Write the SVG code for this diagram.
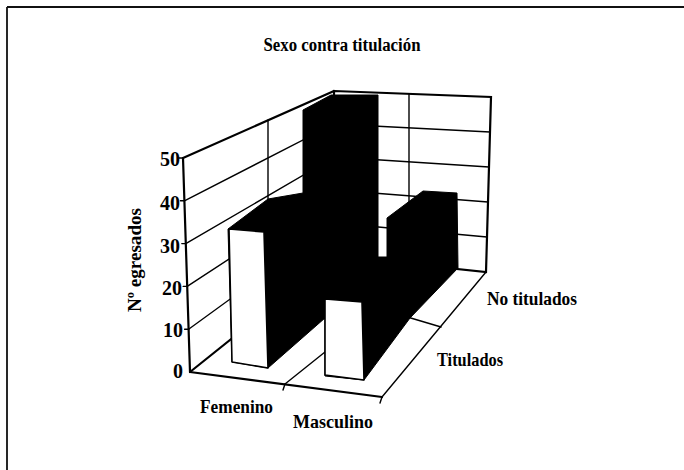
<svg xmlns="http://www.w3.org/2000/svg" width="684" height="470" viewBox="0 0 684 470">
<style>
.t{font-family:"Liberation Serif","Times New Roman",serif;font-weight:bold;fill:#000}
.grid{stroke:#000;stroke-width:1.4;fill:none;stroke-linecap:round}
.edge{stroke:#000;stroke-width:2.2;fill:none;stroke-linecap:round}
.face{fill:#fff;stroke:#000;stroke-width:1.6;stroke-linejoin:round}
</style>
<rect width="684" height="470" fill="#fff"/>
<g id="frame">
<path d="M7,7 H684 M7,7 V470" stroke="#111" stroke-width="1.8" fill="none"/>
</g>
<g id="title"><text class="t" x="342" y="51" font-size="18.5" text-anchor="middle" textLength="157" lengthAdjust="spacingAndGlyphs">Sexo contra titulación</text></g>
<g id="walls">
<path class="grid" d="M184.4,200.8 L334.2,124 M185.8,243.6 L334.4,157 M187.2,286.4 L334.6,190 M188.6,329.2 L334.8,223"/>
<path class="grid" d="M268,120 L268,310"/>
<path class="grid" d="M334.2,124 L490,132 M334.4,157 L489,167 M334.6,190 L488,202 M334.8,223 L487,237"/>
<path class="grid" d="M409,94 L409,268"/>
<path class="edge" d="M334,91 L491,97 L486,272 L335,256 Z" stroke-width="1.8"/>
<path class="edge" d="M183,158 L334,91" stroke-width="2.6"/>
</g>
<g id="floor">
<path class="edge" d="M190,372 L335,256" stroke-width="2.8"/>
<path class="edge" d="M190,372 L382,397" stroke-width="2"/>
<path class="grid" d="M382,397 L486,272"/>
<path class="grid" d="M285,384 L360,324"/>
<path class="grid" d="M404,316 L441,327"/>
<path class="grid" d="M285,384 L283,390 M382,397 L380,403"/>
</g>
<g id="axis">
<path class="edge" d="M183,158 L190,372" stroke-width="2.2"/>
<path class="grid" d="M183,158 L179,158 M184.4,200.8 L180.4,200.8 M185.8,243.6 L181.8,243.6 M187.2,286.4 L183.2,286.4 M188.6,329.2 L184.6,329.2"/>
<g class="t" font-size="20" text-anchor="end">
<text x="180" y="166">50</text>
<text x="180" y="210">40</text>
<text x="180" y="253">30</text>
<text x="182" y="295">20</text>
<text x="183" y="337">10</text>
<text x="183" y="378">0</text>
</g>
<text class="t" font-size="19" text-anchor="middle" transform="translate(141,260) rotate(-90)" textLength="104" lengthAdjust="spacingAndGlyphs">Nº egresados</text>
</g>
<g id="bars">
<polygon fill="#000" stroke="#000" stroke-width="1" stroke-linejoin="round" points="228,229 268,199 303,193 303,110 331,95 378,95 378,257 387,257 387,218 423,191 457,193 458,268 410,318 364,380 325,376 325,318 268,368 232,362"/>
<polygon id="fem-tit" class="face" points="229,229 264,232 268,368 232,362"/>
<polygon id="masc-tit" class="face" points="325,299 362,302 364,380 325,375"/>
</g>
<g id="labels">
<text class="t" x="200" y="413" font-size="19" textLength="73" lengthAdjust="spacingAndGlyphs">Femenino</text>
<text class="t" x="293" y="428" font-size="19" textLength="80" lengthAdjust="spacingAndGlyphs">Masculino</text>
<text class="t" x="437" y="366" font-size="19" textLength="66" lengthAdjust="spacingAndGlyphs">Titulados</text>
<text class="t" x="487" y="305" font-size="19" textLength="90" lengthAdjust="spacingAndGlyphs">No titulados</text>
</g>
</svg>
